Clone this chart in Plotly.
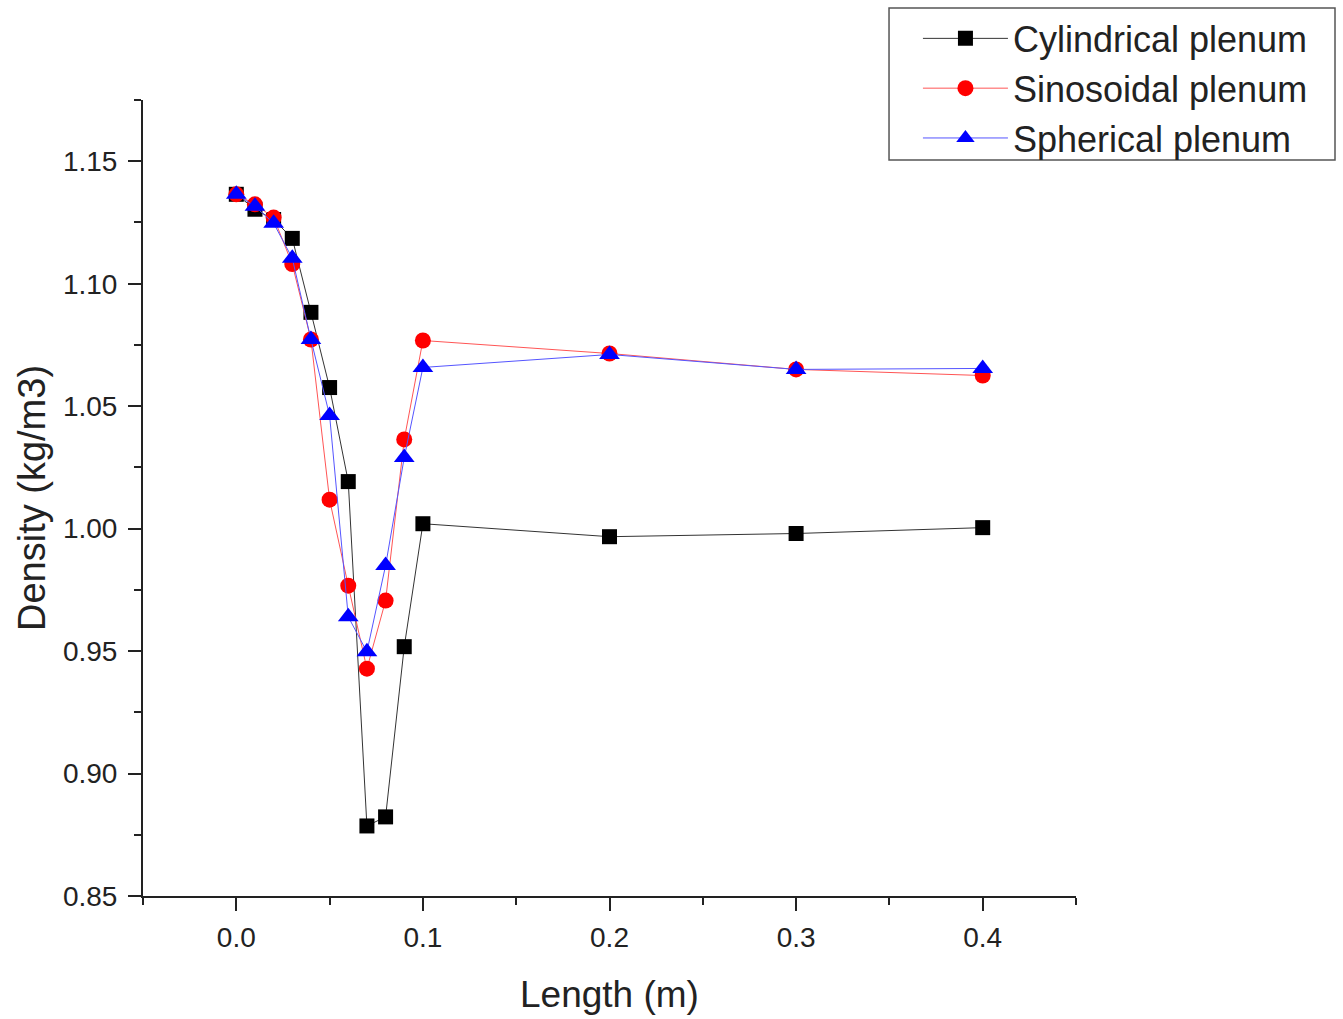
import plotly.graph_objects as go

# Data
length_m = [0.0, 0.01, 0.02, 0.03, 0.04, 0.05, 0.06, 0.07, 0.08, 0.09, 0.1, 0.2, 0.3, 0.4]
cylindrical = [1.1365, 1.1304, 1.1262, 1.1185, 1.0883, 1.0576, 1.0192, 0.8786, 0.8823, 0.9518, 1.0020, 0.9967, 0.9980, 1.0004]
sinusoidal = [1.1365, 1.1324, 1.1270, 1.1080, 1.0772, 1.0118, 0.9767, 0.9428, 0.9706, 1.0364, 1.0768, 1.0715, 1.0650, 1.0625]
spherical = [1.1365, 1.1316, 1.1247, 1.1104, 1.0772, 1.0462, 0.9640, 0.9497, 0.9849, 1.0290, 1.0658, 1.0711, 1.0650, 1.0654]
x_tick_labels = ["0.0", "0.1", "0.2", "0.3", "0.4"]
series_names = ["Cylindrical plenum", "Sinosoidal plenum", "Spherical plenum"]


def axis_pos(x):
    # the original axis is piecewise: 0-0.1 occupies the same span as each 0.1 step after
    if x <= 0.1:
        return x * 10
    return 1 + (x - 0.1) * 10


xpos = [axis_pos(v) for v in length_m]
tick_pos = [axis_pos(float(t)) for t in x_tick_labels]

FONT = "Liberation Sans, Arial, sans-serif"

fig = go.Figure()
styles = [
    dict(color="#000000", symbol="square", size=15, line="#333333"),
    dict(color="#ff0000", symbol="circle", size=16, line="#ff5555"),
    dict(color="#0000ff", symbol="triangle-up", size=18, line="#5555ff"),
]
for name, vals, st in zip(series_names, [cylindrical, sinusoidal, spherical], styles):
    fig.add_trace(go.Scatter(
        x=xpos, y=vals, name=name, mode="lines+markers",
        line=dict(color=st["line"], width=1),
        marker=dict(symbol=st["symbol"], size=st["size"], color=st["color"],
                    line=dict(width=0)),
    ))

# legend frame
fig.add_shape(type="rect", xref="paper", yref="paper",
              x0=0.7996, x1=1.2776, y0=0.9246, y1=1.1156,
              line=dict(color="#555555", width=1.5), fillcolor="rgba(0,0,0,0)",
              layer="above")

fig.update_layout(
    width=1343, height=1019,
    margin=dict(l=143, r=267, t=100, b=123, autoexpand=False),
    paper_bgcolor="white", plot_bgcolor="white",
    font=dict(family=FONT, color="#222222", size=28),
    showlegend=True,
    legend=dict(
        x=0.8306, y=1.1150, xanchor="left", yanchor="top",
        bgcolor="rgba(0,0,0,0)", borderwidth=0,
        font=dict(size=36, family=FONT, color="#222222"),
        itemwidth=85, tracegroupgap=0,
    ),
    xaxis=dict(
        range=[-0.5, 4.5], tickmode="array", tickvals=tick_pos, ticktext=x_tick_labels,
        ticks="outside", ticklen=13, tickwidth=2, tickcolor="#222",
        showline=True, linecolor="#222", linewidth=2, showgrid=False, zeroline=False,
        tickfont=dict(size=28), ticklabelstandoff=2, automargin=False,
        minor=dict(tickmode="linear", tick0=-0.5, dtick=0.5, ticks="outside",
                   ticklen=7, tickwidth=2, tickcolor="#222", showgrid=False),
        title=dict(text="Length (m)", font=dict(size=37), standoff=30),
    ),
    yaxis=dict(
        range=[0.85, 1.175], tickmode="linear", tick0=0.85, dtick=0.05, tickformat=".2f",
        ticks="outside", ticklen=13, tickwidth=2, tickcolor="#222",
        showline=True, linecolor="#222", linewidth=2, showgrid=False, zeroline=False,
        tickfont=dict(size=28), ticklabelstandoff=5, automargin=False,
        minor=dict(tickmode="linear", tick0=0.85, dtick=0.025, ticks="outside",
                   ticklen=7, tickwidth=2, tickcolor="#222", showgrid=False),
        title=dict(text="Density (kg/m3)", font=dict(size=38), standoff=6),
    ),
)

fig.write_html("out.html")
